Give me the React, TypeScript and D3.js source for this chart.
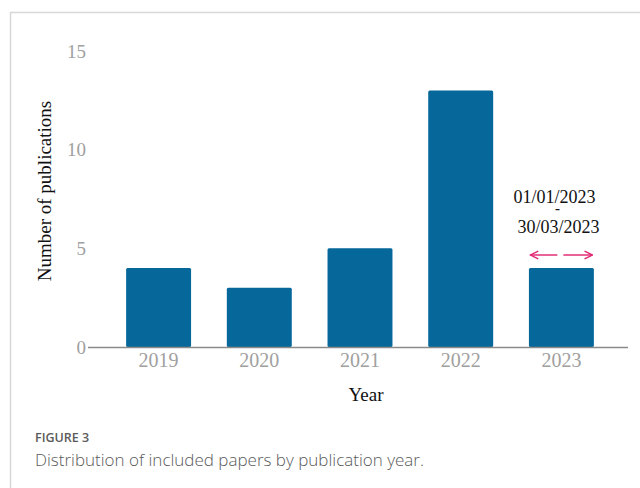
import React from "react";
import * as d3 from "d3";

const years = ["2019", "2020", "2021", "2022", "2023"];
const counts = [4, 3, 5, 13, 4];
const yTicks = [0, 5, 10, 15];
const rangeNoteTop = "01/01/2023";
const rangeNoteDash = "-";
const rangeNoteBottom = "30/03/2023";

const W = 640;
const H = 488;

export default function App() {
  const x = d3.scaleBand<string>().domain(years).range([108, 612]).paddingInner(0.355).paddingOuter(0.18);
  const y = d3.scaleLinear().domain([0, 15]).range([347, 51]);
  const serif = "'Liberation Serif', 'Times New Roman', serif";
  const sans = "'Open Sans', 'Noto Sans', sans-serif";
  const pink = "#e0206e";
  const lastX = x("2023")! + x.bandwidth() / 2;
  const arrowY = 255;

  return (
    <svg
      width={W}
      height={H}
      style={{ position: "absolute", left: 0, top: 0, background: "#fff" }}
    >
      <defs>
        <marker id="ah" viewBox="0 0 10 10" refX="9" refY="5" markerWidth="7" markerHeight="7" orient="auto-start-reverse">
          <path d="M1,1 L9,5 L1,9" fill="none" stroke={pink} strokeWidth="1.4" />
        </marker>
      </defs>
      {/* page frame */}
      <line x1={10} y1={12.5} x2={W} y2={12.5} stroke="#d8d8d8" strokeWidth={1.5} />
      <line x1={10.5} y1={12} x2={10.5} y2={H} stroke="#d8d8d8" strokeWidth={1.5} />

      {/* bars */}
      {years.map((yr, i) => (
        <rect
          key={yr}
          x={x(yr)}
          y={y(counts[i])}
          width={x.bandwidth()}
          height={y(0) - y(counts[i])}
          fill="#05679a"
          rx={1.5}
        />
      ))}

      {/* baseline */}
      <line x1={88} x2={628} y1={y(0) + 0.5} y2={y(0) + 0.5} stroke="#8a8a8a" strokeWidth={1.5} />

      {/* y tick labels */}
      {yTicks.map((t) => (
        <text key={t} x={86} y={y(t)} dy="0.35em" textAnchor="end" fontFamily={serif} fontSize={19} fill="#a0a0a0">
          {t}
        </text>
      ))}

      {/* x tick labels */}
      {years.map((yr) => (
        <text key={yr} x={x(yr)! + x.bandwidth() / 2} y={367} textAnchor="middle" fontFamily={serif} fontSize={20} fill="#a0a0a0">
          {yr}
        </text>
      ))}

      {/* axis titles */}
      <text x={366} y={401} textAnchor="middle" fontFamily={serif} fontSize={19} fill="#111">
        Year
      </text>
      <text
        transform={`translate(51,${191}) rotate(-90)`}
        textAnchor="middle"
        fontFamily={serif}
        fontSize={19}
        fill="#111"
      >
        Number of publications
      </text>

      {/* date range note: one text block, three lines */}
      <text textAnchor="middle" fontFamily={serif} fontSize={18} fill="#111">
        <tspan x={lastX - 7} y={203}>{rangeNoteTop}</tspan>
        <tspan x={lastX - 4} y={213} fontSize={15} fontWeight={700}>{rangeNoteDash}</tspan>
        <tspan x={lastX - 3} y={233}>{rangeNoteBottom}</tspan>
      </text>
      <line x1={lastX - 4} x2={lastX - 31} y1={arrowY} y2={arrowY} stroke={pink} strokeWidth={1.4} markerEnd="url(#ah)" />
      <line x1={lastX + 2} x2={lastX + 31} y1={arrowY} y2={arrowY} stroke={pink} strokeWidth={1.4} markerEnd="url(#ah)" />

      {/* caption */}
      <text x={35} y={442} fontFamily={sans} fontSize={12.5} fontWeight={600} fill="#5a5a5a">
        FIGURE 3
      </text>
      <text x={35} y={466} fontFamily={sans} fontSize={17} fontWeight={300} fill="#5a5a5a">
        Distribution of included papers by publication year.
      </text>
    </svg>
  );
}
